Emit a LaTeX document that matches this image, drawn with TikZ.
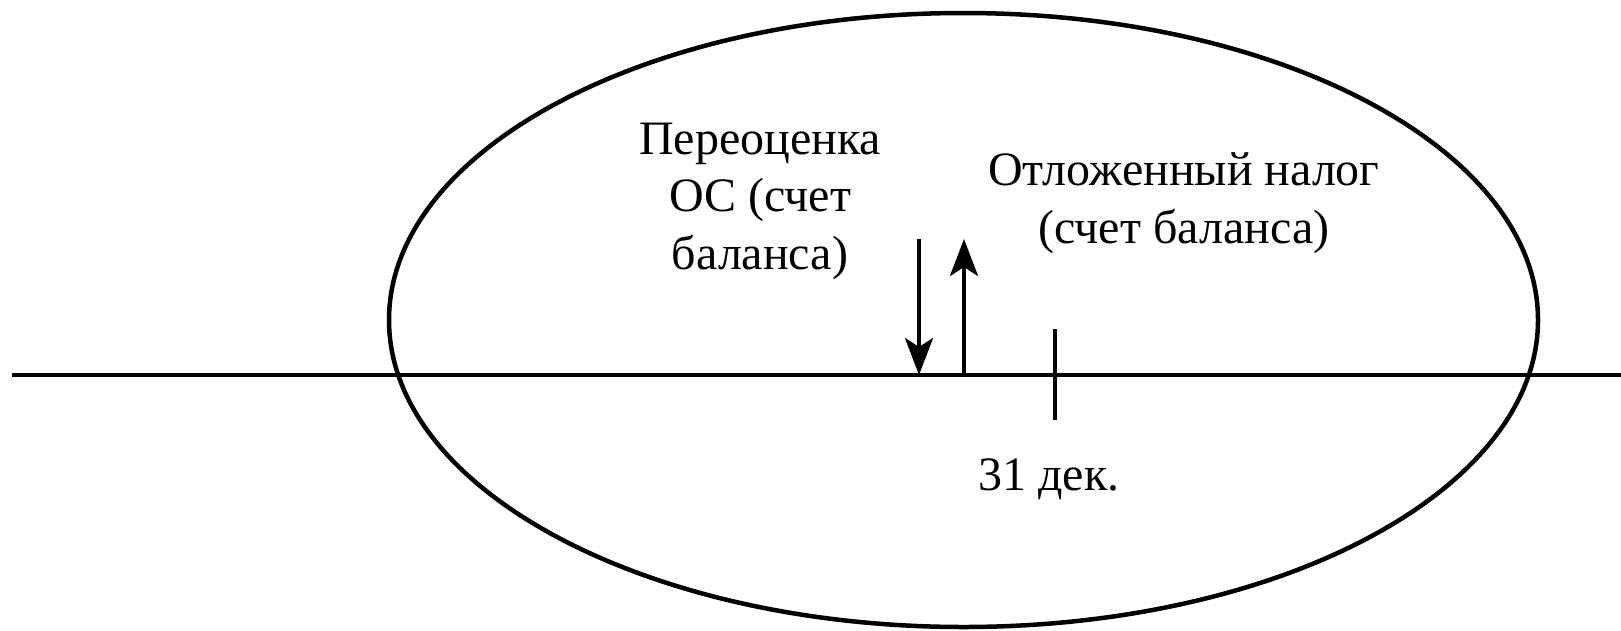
\documentclass[tikz,border=0pt]{standalone}
\usepackage{fontspec}
\setmainfont{Liberation Serif}
\usetikzlibrary{arrows.meta}
\tikzset{
  stroke/.style={line width=4.5pt, draw=black},
  lbl/.style={align=center, inner sep=0pt, font=\fontsize{48}{57.5}\selectfont},
  arr/.style={stroke, -{Stealth[length=37pt, width=28pt, inset=9pt]}}
}
\begin{document}
\begin{tikzpicture}[x=1pt, y=-1pt]
\useasboundingbox (0,0) rectangle (1621,630);
% ellipse
\draw[stroke] (963.5,320) ellipse [x radius=574.5, y radius=307];
% time axis
\coordinate (axL) at (12,375);
\coordinate (axR) at (1621,375);
\draw[stroke] (axL) -- (axR);
% arrows
\coordinate (dTop) at (919,239);
\coordinate (dBot) at (919,375);
\coordinate (uBot) at (964,375);
\coordinate (uTop) at (964,239);
\draw[arr] (dTop) -- (dBot);
\draw[arr] (uBot) -- (uTop);
% tick
\coordinate (tTop) at (1055,329);
\coordinate (tBot) at (1055,420);
\draw[stroke] (tTop) -- (tBot);
% labels
\node[lbl] (reval) at (760,201) {Переоценка\\ОС (счет\\баланса)};
\node[lbl] (tax) at (1184,203) {Отложенный налог\\(счет баланса)};
\node[lbl] (dec) at (1049,479) {31 дек.};
\end{tikzpicture}
\end{document}
